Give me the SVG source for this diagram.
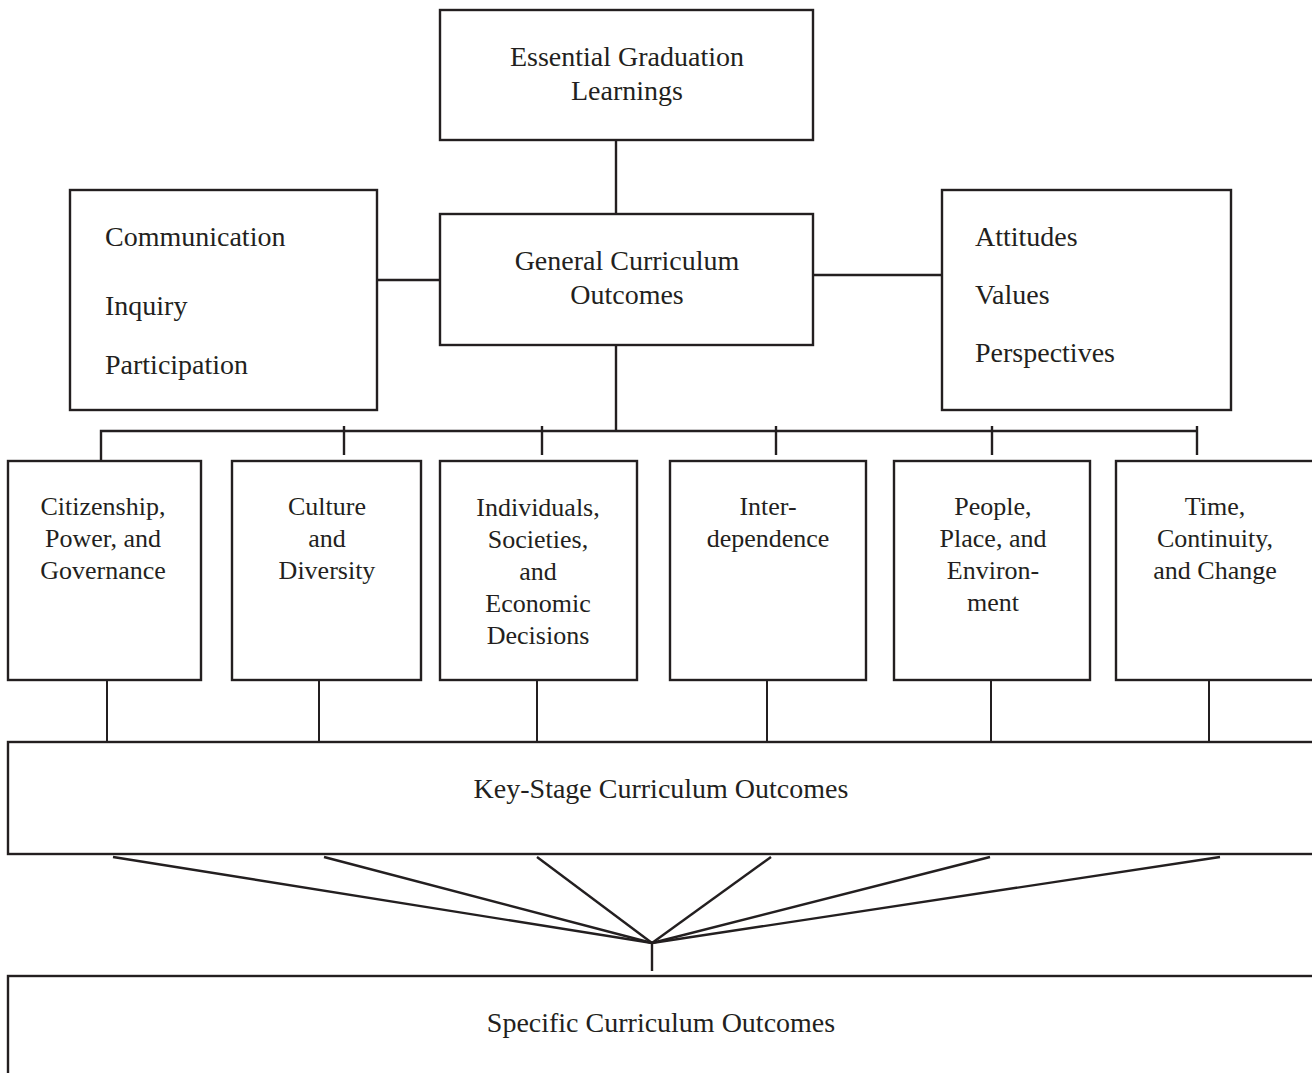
<svg xmlns="http://www.w3.org/2000/svg" width="1312" height="1073" viewBox="0 0 1312 1073">
  <style>
    .box { fill: #ffffff; stroke: #231f20; stroke-width: 2.4; }
    .wire { fill: none; stroke: #231f20; stroke-width: 2.4; }
    .thin { fill: none; stroke: #231f20; stroke-width: 2; }
    text { font-family: "Liberation Serif", "Times New Roman", serif; font-size: 28px; fill: #231f20; }
    .c { text-anchor: middle; }
    .cat { font-size: 26px; }
  </style>
  <rect width="1312" height="1073" fill="#ffffff"/>

  <!-- connectors -->
  <g id="connectors">
    <line class="wire" x1="616" y1="140" x2="616" y2="214"/>
    <line class="wire" x1="377" y1="280" x2="440" y2="280"/>
    <line class="wire" x1="813" y1="275" x2="942" y2="275"/>
    <line class="wire" x1="616" y1="345" x2="616" y2="431"/>
    <polyline class="wire" points="101,460 101,431 1197,431"/>
    <line class="wire" x1="344" y1="426" x2="344" y2="455"/>
    <line class="wire" x1="542" y1="426" x2="542" y2="455"/>
    <line class="wire" x1="776" y1="426" x2="776" y2="455"/>
    <line class="wire" x1="992" y1="426" x2="992" y2="455"/>
    <line class="wire" x1="1197" y1="426" x2="1197" y2="455"/>
    <line class="thin" x1="107" y1="681" x2="107" y2="742"/>
    <line class="thin" x1="319" y1="681" x2="319" y2="742"/>
    <line class="thin" x1="537" y1="681" x2="537" y2="742"/>
    <line class="thin" x1="767" y1="681" x2="767" y2="742"/>
    <line class="thin" x1="991" y1="681" x2="991" y2="742"/>
    <line class="thin" x1="1209" y1="681" x2="1209" y2="742"/>
    <line class="wire" x1="113" y1="857" x2="652" y2="943"/>
    <line class="wire" x1="324" y1="857" x2="652" y2="943"/>
    <line class="wire" x1="537" y1="857" x2="652" y2="943"/>
    <line class="wire" x1="771" y1="857" x2="652" y2="943"/>
    <line class="wire" x1="990" y1="857" x2="652" y2="943"/>
    <line class="wire" x1="1220" y1="857" x2="652" y2="943"/>
    <line class="wire" x1="652" y1="943" x2="652" y2="971"/>
  </g>

  <g id="egl">
    <rect class="box" x="440" y="10" width="373" height="130"/>
    <text class="c" x="627" y="66">Essential Graduation</text>
    <text class="c" x="627" y="100">Learnings</text>
  </g>

  <g id="gco">
    <rect class="box" x="440" y="214" width="373" height="131"/>
    <text class="c" x="627" y="270">General Curriculum</text>
    <text class="c" x="627" y="304">Outcomes</text>
  </g>

  <g id="processes">
    <rect class="box" x="70" y="190" width="307" height="220"/>
    <text x="105" y="246">Communication</text>
    <text x="105" y="315">Inquiry</text>
    <text x="105" y="374">Participation</text>
  </g>

  <g id="attitudes">
    <rect class="box" x="942" y="190" width="289" height="220"/>
    <text x="975" y="246">Attitudes</text>
    <text x="975" y="304">Values</text>
    <text x="975" y="362">Perspectives</text>
  </g>

  <g id="citizenship">
    <rect class="box" x="8" y="461" width="193" height="219"/>
    <text class="c cat" x="103" y="515">Citizenship,</text>
    <text class="c cat" x="103" y="547">Power, and</text>
    <text class="c cat" x="103" y="579">Governance</text>
  </g>

  <g id="culture">
    <rect class="box" x="232" y="461" width="189" height="219"/>
    <text class="c cat" x="327" y="515">Culture</text>
    <text class="c cat" x="327" y="547">and</text>
    <text class="c cat" x="327" y="579">Diversity</text>
  </g>

  <g id="individuals">
    <rect class="box" x="440" y="461" width="197" height="219"/>
    <text class="c cat" x="538" y="516">Individuals,</text>
    <text class="c cat" x="538" y="548">Societies,</text>
    <text class="c cat" x="538" y="580">and</text>
    <text class="c cat" x="538" y="612">Economic</text>
    <text class="c cat" x="538" y="644">Decisions</text>
  </g>

  <g id="interdependence">
    <rect class="box" x="670" y="461" width="196" height="219"/>
    <text class="c cat" x="768" y="515">Inter-</text>
    <text class="c cat" x="768" y="547">dependence</text>
  </g>

  <g id="people">
    <rect class="box" x="894" y="461" width="196" height="219"/>
    <text class="c cat" x="993" y="515">People,</text>
    <text class="c cat" x="993" y="547">Place, and</text>
    <text class="c cat" x="993" y="579">Environ-</text>
    <text class="c cat" x="993" y="611">ment</text>
  </g>

  <g id="time">
    <rect class="box" x="1116" y="461" width="210" height="219"/>
    <text class="c cat" x="1215" y="515">Time,</text>
    <text class="c cat" x="1215" y="547">Continuity,</text>
    <text class="c cat" x="1215" y="579">and Change</text>
  </g>

  <g id="keystage">
    <rect class="box" x="8" y="742" width="1320" height="112"/>
    <text class="c" x="661" y="798">Key-Stage Curriculum Outcomes</text>
  </g>

  <g id="specific">
    <rect class="box" x="8" y="976" width="1320" height="120"/>
    <text class="c" x="661" y="1032">Specific Curriculum Outcomes</text>
  </g>
</svg>
